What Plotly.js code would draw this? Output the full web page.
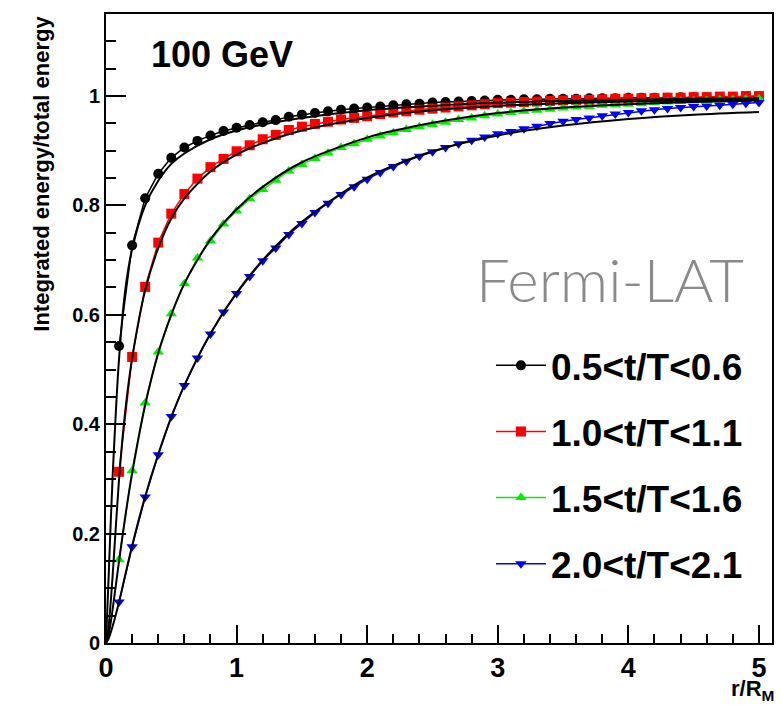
<!DOCTYPE html>
<html>
<head>
<meta charset="utf-8">
<script src="https://cdn.plot.ly/plotly-3.0.1.min.js"></script>
<style>html,body{margin:0;padding:0;background:#fff;}#chart{width:783px;height:705px;}</style>
</head>
<body>
<div id="chart"></div>
<script>
// r/R_M sample positions of the measured points
const rPoints = [0.1,0.2,0.3,0.4,0.5,0.6,0.7,0.8,0.9,1.0,
  1.1,1.2,1.3,1.4,1.5,1.6,1.7,1.8,1.9,2.0,
  2.1,2.2,2.3,2.4,2.5,2.6,2.7,2.8,2.9,3.0,
  3.1,3.2,3.3,3.4,3.5,3.6,3.7,3.8,3.9,4.0,
  4.1,4.2,4.3,4.4,4.5,4.6,4.7,4.8,4.9,5.0];

const seriesNames = ["0.5&lt;t/T&lt;0.6","1.0&lt;t/T&lt;1.1","1.5&lt;t/T&lt;1.6","2.0&lt;t/T&lt;2.1"];

const data05 = [0.543,0.727,0.813,0.858,0.887,0.906,0.918,0.928,0.936,0.942,
  0.947,0.952,0.956,0.962,0.966,0.969,0.972,0.975,0.977,0.979,
  0.981,0.983,0.985,0.986,0.988,0.989,0.990,0.991,0.992,0.993,
  0.993,0.994,0.994,0.995,0.995,0.995,0.996,0.996,0.996,0.997,
  0.997,0.997,0.997,0.998,0.998,0.998,0.998,0.998,0.999,0.999];

const data10 = [0.313,0.523,0.651,0.732,0.785,0.821,0.849,0.870,0.885,0.899,
  0.910,0.921,0.929,0.938,0.944,0.949,0.953,0.957,0.960,0.963,
  0.967,0.970,0.972,0.975,0.977,0.979,0.981,0.983,0.985,0.987,
  0.988,0.989,0.990,0.991,0.992,0.993,0.993,0.994,0.995,0.995,
  0.996,0.996,0.997,0.997,0.998,0.998,0.999,0.999,1.000,1.000];

const data15 = [0.152,0.315,0.439,0.532,0.602,0.657,0.704,0.735,0.766,0.790,
  0.812,0.829,0.846,0.863,0.875,0.886,0.896,0.906,0.913,0.921,
  0.927,0.933,0.939,0.944,0.948,0.952,0.957,0.960,0.964,0.967,
  0.970,0.972,0.974,0.976,0.978,0.980,0.981,0.983,0.984,0.985,
  0.986,0.988,0.989,0.990,0.991,0.992,0.993,0.993,0.994,0.995];

const data20 = [0.075,0.176,0.267,0.344,0.414,0.471,0.521,0.565,0.605,0.639,
  0.670,0.699,0.722,0.747,0.767,0.787,0.804,0.820,0.834,0.848,
  0.860,0.871,0.881,0.890,0.898,0.906,0.913,0.919,0.925,0.931,
  0.935,0.940,0.945,0.950,0.954,0.957,0.960,0.964,0.967,0.970,
  0.973,0.975,0.977,0.979,0.981,0.982,0.983,0.985,0.987,0.988];

// fitted curves (black lines)
const rFit = [0,0.02,0.05,0.1,0.15,0.2,0.3,0.4,0.5,0.6,0.8,1.0,1.2,1.5,2.0,2.5,3.0,3.5,4.0,4.5,5.0];
const fit05 = [0,0.12,0.30,0.52,0.65,0.72,0.80,0.845,0.876,0.895,0.921,0.937,0.948,0.960,0.974,0.982,0.988,0.991,0.993,0.995,0.996];
const fit10 = [0,0.03,0.12,0.30,0.43,0.52,0.645,0.722,0.776,0.813,0.862,0.893,0.914,0.937,0.960,0.974,0.982,0.987,0.990,0.992,0.994];
const fit15 = [0,0.015,0.06,0.15,0.235,0.31,0.435,0.53,0.60,0.657,0.738,0.793,0.834,0.879,0.924,0.951,0.969,0.979,0.985,0.989,0.992];
const fit20 = [0,0.008,0.03,0.075,0.127,0.178,0.268,0.345,0.413,0.471,0.566,0.640,0.700,0.770,0.851,0.899,0.928,0.946,0.958,0.966,0.971];

const colors = ["#000000","#ff0000","#00ee00","#0000ff"];
const symbols = ["circle","square","triangle-up","triangle-down"];
const sizes = [10,10,10,10];
const allData = [data05,data10,data15,data20];
const allFits = [fit05,fit10,fit15,fit20];

const traces = [];
for (let i = 0; i < 4; i++) {
  traces.push({
    x: rPoints, y: allData[i], type: "scatter", mode: "lines+markers",
    name: seriesNames[i], legendgroup: "g" + i,
    line: {color: colors[i], width: 1.5},
    marker: {color: colors[i], symbol: symbols[i], size: sizes[i]}
  });
}
for (let i = 0; i < 4; i++) {
  traces.push({
    x: rFit, y: allFits[i], type: "scatter", mode: "lines",
    showlegend: false, hoverinfo: "skip",
    line: {color: "#000000", width: 2, shape: "spline", smoothing: 0.8}
  });
}

const boldFont = {family: "Liberation Sans, Arial, sans-serif", color: "#000", weight: "bold"};

const layout = {
  width: 783, height: 705,
  margin: {l: 106, r: 11, t: 14, b: 62},
  paper_bgcolor: "#fff", plot_bgcolor: "#fff",
  showlegend: true,
  legend: {
    x: 0.578, y: 0.49, xanchor: "left", yanchor: "top",
    bgcolor: "rgba(0,0,0,0)", borderwidth: 0,
    font: Object.assign({}, boldFont, {size: 37}),
    tracegroupgap: 15, itemwidth: 50
  },
  xaxis: {
    range: [0, 5.1], showgrid: false, zeroline: false,
    showline: true, mirror: true, linecolor: "#000", linewidth: 2,
    ticks: "inside", ticklen: 18, tickwidth: 2, tickcolor: "#000",
    dtick: 1, tick0: 0,
    tickfont: Object.assign({}, boldFont, {size: 27}),
    minor: {dtick: 0.2, ticks: "inside", ticklen: 9, tickwidth: 2, tickcolor: "#000", showgrid: false}
  },
  yaxis: {
    range: [0, 1.15], showgrid: false, zeroline: false,
    showline: true, mirror: true, linecolor: "#000", linewidth: 2,
    ticks: "inside", ticklen: 20, tickwidth: 2, tickcolor: "#000",
    dtick: 0.2, tick0: 0,
    tickfont: Object.assign({}, boldFont, {size: 20}),
    minor: {dtick: 0.05, ticks: "inside", ticklen: 10, tickwidth: 2, tickcolor: "#000", showgrid: false}
  },
  annotations: [
    {text: "Integrated energy/total energy", xref: "paper", yref: "paper",
     x: -0.098, y: 1.0, xanchor: "center", yanchor: "top", textangle: -90,
     showarrow: false, font: Object.assign({}, boldFont, {size: 22})},
    {text: "r/R<sub>M</sub>", xref: "paper", yref: "paper",
     x: 1.006, y: -0.074, xanchor: "right", yanchor: "middle",
     showarrow: false, font: Object.assign({}, boldFont, {size: 22})},
    {text: "100 GeV", xref: "paper", yref: "paper",
     x: 0.064, y: 0.935, xanchor: "left", yanchor: "middle",
     showarrow: false, font: Object.assign({}, boldFont, {size: 36})},
    {text: "Fermi-LAT", xref: "paper", yref: "paper",
     x: 0.553, y: 0.578, xanchor: "left", yanchor: "middle",
     showarrow: false, font: {family: "Lato, Open Sans, sans-serif", size: 60, color: "#8a8a8a", weight: 300}}
  ]
};

Plotly.newPlot("chart", traces, layout, {displayModeBar: false, staticPlot: true});
</script>
</body>
</html>
